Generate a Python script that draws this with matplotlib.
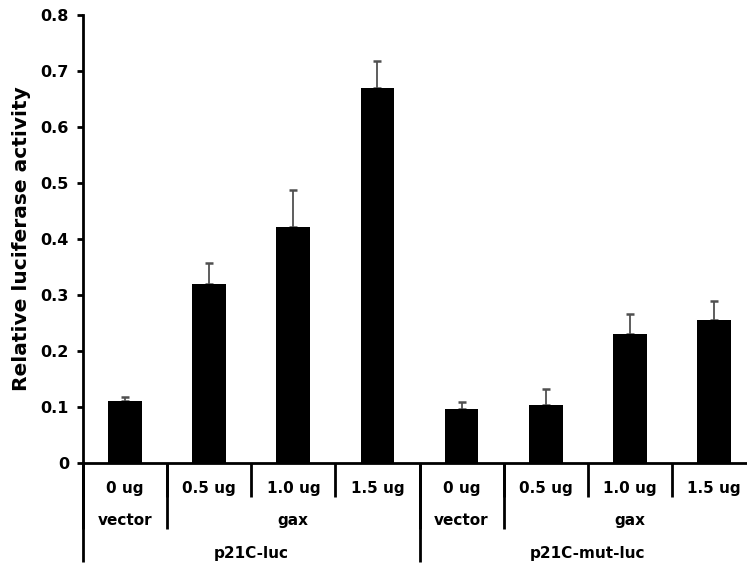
import numpy as np
import matplotlib
matplotlib.use('Agg')
import matplotlib.pyplot as plt
import matplotlib.transforms as mtransforms

doses = ['0 ug', '0.5 ug', '1.0 ug', '1.5 ug', '0 ug', '0.5 ug', '1.0 ug', '1.5 ug']
activity = [0.110, 0.320, 0.421, 0.669, 0.097, 0.103, 0.231, 0.256]
errors = [0.008, 0.037, 0.066, 0.048, 0.012, 0.029, 0.035, 0.034]

treatments = ['vector', 'gax', 'vector', 'gax']
treatment_first = [0, 1, 4, 5]
treatment_last = [0, 3, 4, 7]

constructs = ['p21C-luc', 'p21C-mut-luc']
construct_first = [0, 4]
construct_last = [3, 7]

yticks = [0, 0.1, 0.2, 0.3, 0.4, 0.5, 0.6, 0.7, 0.8]
ytick_labels = ['0', '0.1', '0.2', '0.3', '0.4', '0.5', '0.6', '0.7', '0.8']

plt.rcParams['font.family'] = 'DejaVu Sans'
plt.rcParams['font.weight'] = 'bold'

fig = plt.figure(figsize=(7.47, 5.65), dpi=100)
ax = fig.add_axes([83 / 747, 102 / 565, 664 / 747, 448 / 565])

x = np.arange(len(doses))
ax.bar(x, activity, width=0.4, color='black', zorder=2)
ax.errorbar(x, activity, yerr=[np.zeros(len(errors)), errors], fmt='none',
            ecolor='#505050', elinewidth=1.3, capsize=3, capthick=1.8, zorder=1)

ax.set_ylim(0, 0.8)
ax.set_xlim(-0.5, (747 - 126) / 84)
ax.set_yticks(yticks)
ax.set_yticklabels(ytick_labels, fontsize=11.5, fontweight='bold')
ax.set_xticks([])
ax.tick_params(axis='y', direction='out', length=4, width=2, pad=6)

for s in ['top', 'right']:
    ax.spines[s].set_visible(False)
ax.spines['left'].set_linewidth(2)
ax.spines['bottom'].set_linewidth(2)

ax.set_ylabel('Relative luciferase activity', fontsize=14.5, fontweight='bold')
ax.yaxis.set_label_coords(-0.079, 0.5)

trans = mtransforms.blended_transform_factory(ax.transData, ax.transAxes)
row_text = [-0.056, -0.129, -0.201]
row_end = [-0.076, -0.147, -0.221]

# dose row
for i, d in enumerate(doses):
    ax.text(i, row_text[0], d, transform=trans, ha='center', va='center',
            fontsize=11, fontweight='bold')
for b in range(len(doses)):
    ax.plot([b - 0.5, b - 0.5], [0, row_end[0]], transform=trans, color='black',
            lw=2, clip_on=False, solid_capstyle='butt')

# treatment row
for name, a, b in zip(treatments, treatment_first, treatment_last):
    ax.text((a + b) / 2, row_text[1], name, transform=trans, ha='center', va='center',
            fontsize=11, fontweight='bold')
    ax.plot([a - 0.5, a - 0.5], [0, row_end[1]], transform=trans, color='black',
            lw=2, clip_on=False, solid_capstyle='butt')

# construct row
for name, a, b in zip(constructs, construct_first, construct_last):
    ax.text((a + b) / 2, row_text[2], name, transform=trans, ha='center', va='center',
            fontsize=11, fontweight='bold')
    ax.plot([a - 0.5, a - 0.5], [0, row_end[2]], transform=trans, color='black',
            lw=2, clip_on=False, solid_capstyle='butt')

fig.savefig('out.png', dpi=100)
